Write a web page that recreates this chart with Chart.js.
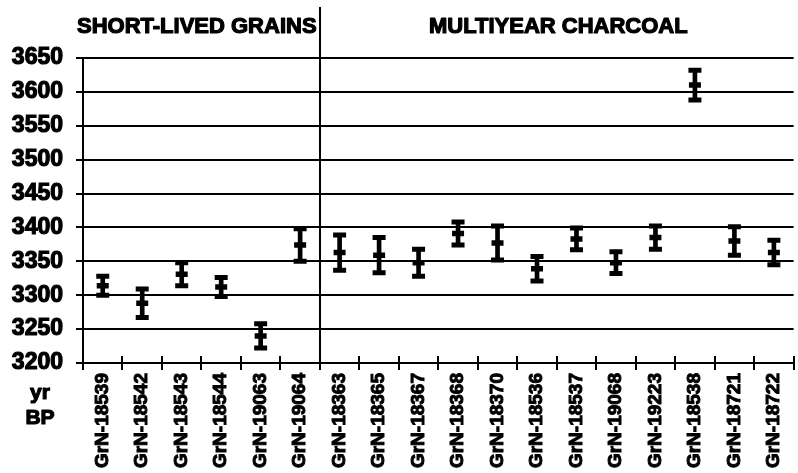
<!DOCTYPE html>
<html><head><meta charset="utf-8">
<script src="https://cdn.jsdelivr.net/npm/chart.js@4/dist/chart.umd.min.js"></script>
<style>
html,body{margin:0;padding:0;background:#fff;overflow:hidden;width:798px;height:473px}
#wrap{width:807px;height:473px;position:relative}
</style></head>
<body><div id="wrap"><canvas id="c"></canvas></div>
<script>
const labels = ['GrN-18539','GrN-18542','GrN-18543','GrN-18544','GrN-19063','GrN-19064',
  'GrN-18363','GrN-18365','GrN-18367','GrN-18368','GrN-18370','GrN-18536','GrN-18537',
  'GrN-19068','GrN-19223','GrN-18538','GrN-18721','GrN-18722'];
const dates  = [3314,3288,3331,3312,3240,3374,3363,3359,3348,3391,3377,3339,3383,3348,3385,3610,3380,3363];
const sigmas = [14,21,17,14,18,24,26,26,20,17,25,18,16,16,17,22,21,18];
const groupNames = ['SHORT-LIVED GRAINS','MULTIYEAR CHARCOAL'];
const groupSizes = [6,12];
const yMin = 3200, yMax = 3650, yStep = 50;
const axisTitle = ['yr','BP'];

const lows  = dates.map((d,i)=>d - sigmas[i]);
const highs = dates.map((d,i)=>d + sigmas[i]);

const FONT = '"Liberation Sans", Arial, Helvetica, sans-serif';

function heavyText(ctx, t, x, y){
  ctx.strokeText(t, x, y);
  ctx.fillText(t, x, y);
}

const deco = {
  id:'deco',
  afterDraw(chart){
    const {ctx, chartArea:a, scales:{x}} = chart;
    const half = (x.getPixelForValue(1) - x.getPixelForValue(0))/2;
    ctx.save();
    ctx.strokeStyle = '#000'; ctx.lineWidth = 2;
    for (let i=0;i<=labels.length;i++){
      const px = Math.round(x.getPixelForValue(i) - half);
      ctx.beginPath(); ctx.moveTo(px, a.bottom-7); ctx.lineTo(px, a.bottom+7); ctx.stroke();
    }
    const sx = Math.round(x.getPixelForValue(groupSizes[0]) - half);
    ctx.beginPath(); ctx.moveTo(sx, 7); ctx.lineTo(sx, a.bottom); ctx.stroke();
    ctx.fillStyle = '#000';
    ctx.lineWidth = 1.2; ctx.lineJoin = 'round';
    ctx.font = 'bold 22px ' + FONT;
    ctx.textBaseline = 'middle'; ctx.textAlign = 'left';
    heavyText(ctx, groupNames[0], a.left - 6, 27);
    heavyText(ctx, groupNames[1], sx + 109, 27);
    ctx.textAlign = 'center';
    ctx.font = 'bold 21px ' + FONT;
    heavyText(ctx, axisTitle[0], 40, 393);
    heavyText(ctx, axisTitle[1], 40, 418);
    ctx.restore();
  }
};

new Chart(document.getElementById('c'), {
  type:'bar',
  data:{
    labels,
    datasets:[
      {type:'bar', data: lows.map((l,i)=>[l, highs[i]]), backgroundColor:'#000', borderWidth:0, barThickness:4, grouped:false, order:4},
      {type:'line', data: highs, showLine:false, pointStyle:'line', pointRadius:6.5, pointBorderWidth:5, borderColor:'#000', backgroundColor:'#000', order:1},
      {type:'line', data: lows, showLine:false, pointStyle:'line', pointRadius:6.5, pointBorderWidth:5, borderColor:'#000', backgroundColor:'#000', order:2},
      {type:'line', data: dates, showLine:false, pointStyle:'line', pointRadius:6, pointBorderWidth:5.5, borderColor:'#000', backgroundColor:'#000', order:3}
    ]
  },
  options:{
    responsive:true, maintainAspectRatio:false, animation:false, devicePixelRatio:1,
    layout:{padding:{top:58, right:1, left:0, bottom:0}},
    plugins:{legend:{display:false}, tooltip:{enabled:false}, title:{display:false}},
    scales:{
      x:{
        type:'category', offset:true,
        grid:{display:true, drawOnChartArea:false, drawTicks:false},
        border:{display:true, color:'#000', width:2},
        ticks:{color:'#000', font:{family:FONT, size:19, weight:'bold'}, minRotation:90, maxRotation:90, autoSkip:false, padding:10,
               textStrokeColor:'#000', textStrokeWidth:1},
        afterFit(s){ s.height = 110; }
      },
      y:{
        min:yMin, max:yMax,
        grid:{color:'#000', lineWidth:2, tickLength:7, drawTicks:true},
        border:{display:true, color:'#000', width:2},
        ticks:{stepSize:yStep, color:'#000', font:{family:FONT, size:23, weight:'bold'}, padding:13,
               textStrokeColor:'#000', textStrokeWidth:1.2,
               callback:(v)=>String(v)},
        afterFit(s){ s.width = 83; }
      }
    }
  },
  plugins:[deco]
});
</script>
</body></html>
